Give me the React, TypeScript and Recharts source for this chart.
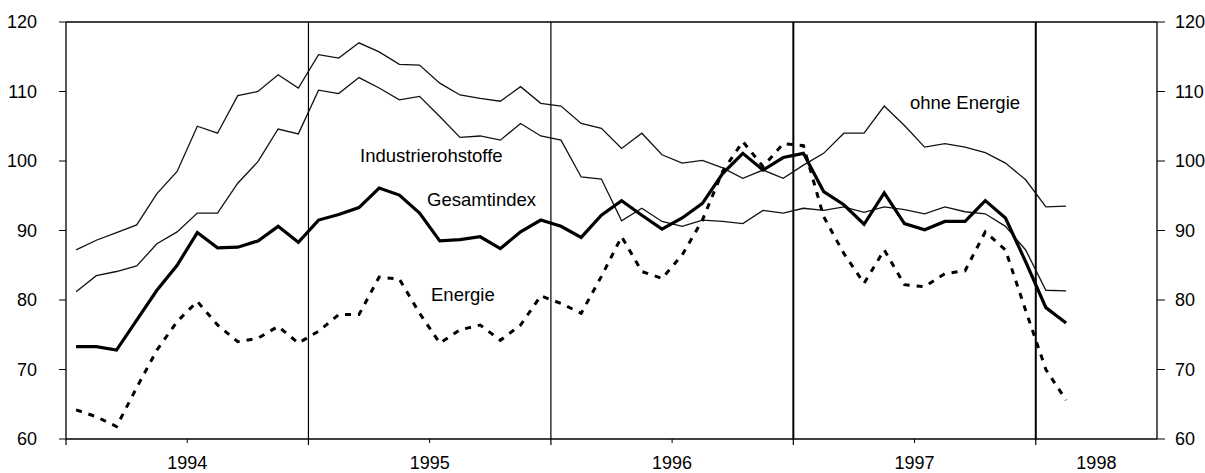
import React from "react";
import { LineChart, Line, XAxis, YAxis, ReferenceLine } from "recharts";

// Monatswerte Jan 1994 – Feb 1998 (Index)
const years = ["1994", "1995", "1996", "1997", "1998"];

const ohneEnergie = [
  87.2, 88.6, 89.7, 90.8, 95.3, 98.5, 105.0, 104.0, 109.4, 110.0, 112.4, 110.5,
  115.3, 114.8, 117.0, 115.7, 113.9, 113.8, 111.2, 109.5, 109.0, 108.6, 110.7, 108.3,
  107.9, 105.4, 104.7, 101.8, 104.0, 100.9, 99.7, 100.1, 99.0, 97.5, 98.7, 97.5,
  99.4, 101.1, 104.0, 104.0, 107.9, 105.1, 102.0, 102.5, 102.0, 101.2, 99.7, 97.3,
  93.4, 93.5,
];

const industrierohstoffe = [
  81.2, 83.5, 84.1, 84.9, 88.1, 89.8, 92.5, 92.5, 96.8, 99.9, 104.6, 103.9,
  110.2, 109.7, 112.0, 110.5, 108.8, 109.3, 106.4, 103.4, 103.6, 103.0, 105.4, 103.6,
  103.0, 97.7, 97.4, 91.4, 93.2, 91.3, 90.6, 91.5, 91.3, 91.0, 92.9, 92.5,
  93.2, 92.9, 93.4, 92.6, 93.4, 93.0, 92.4, 93.4, 92.7, 92.4, 90.6, 87.2,
  81.4, 81.3,
];

const gesamtindex = [
  73.3, 73.3, 72.8, 77.1, 81.4, 85.0, 89.7, 87.5, 87.6, 88.5, 90.6, 88.3,
  91.5, 92.3, 93.3, 96.1, 95.1, 92.5, 88.5, 88.7, 89.1, 87.4, 89.8, 91.5,
  90.6, 89.0, 92.2, 94.3, 92.2, 90.2, 91.8, 93.9, 98.2, 101.1, 98.7, 100.5,
  101.1, 95.6, 93.7, 90.9, 95.4, 91.0, 90.1, 91.3, 91.3, 94.3, 91.8, 85.5,
  78.9, 76.7,
];

const energie = [
  64.2, 63.2, 61.8, 67.4, 72.8, 76.9, 79.8, 76.4, 74.0, 74.5, 76.2, 73.8,
  75.5, 77.9, 77.9, 83.3, 83.0, 78.1, 73.8, 75.7, 76.4, 74.2, 76.4, 80.6,
  79.5, 78.1, 83.4, 89.1, 84.1, 83.1, 86.5, 91.5, 98.5, 102.8, 99.2, 102.5,
  102.2, 92.0, 86.7, 82.4, 87.2, 82.2, 81.9, 83.8, 84.2, 89.8, 87.2, 78.5,
  70.0, 65.6,
];

const yTicks = [60, 70, 80, 90, 100, 110, 120];
const xTicks = [0, 6, 12, 18, 24, 30, 36, 42, 48, 51, 54];
const yearBreaks = [12, 24, 36, 48];

// x = Monatsmitte (Monat i -> i + 0.5)
const data = gesamtindex.map((_, i) => ({
  t: i + 0.5,
  ohne: ohneEnergie[i],
  ind: industrierohstoffe[i],
  ges: gesamtindex[i],
  en: energie[i],
}));

const FONT = "'Liberation Sans', Arial, sans-serif";

function YearTick({ x, y, payload }: any) {
  const v = payload.value;
  const isBreak = v % 12 === 0;
  const isMid = (v % 12 === 6 && v < 48) || v === 51;
  return (
    <g>
      {isBreak && <line x1={x} x2={x} y1={y} y2={y + 6} stroke="#000" strokeWidth={1.2} />}
      {v % 12 === 6 && v < 48 && <line x1={x} x2={x} y1={y} y2={y + 4} stroke="#000" strokeWidth={1} />}
      {isMid && (
        <text x={x} y={y + 30} textAnchor="middle" fontSize={18} fontFamily={FONT} fill="#000">
          {years[Math.floor(v / 12)]}
        </text>
      )}
    </g>
  );
}

const labelStyle: React.CSSProperties = {
  position: "absolute",
  fontFamily: FONT,
  fontSize: 18.5,
  lineHeight: "20px",
  color: "#000",
  whiteSpace: "nowrap",
};

export default function App() {
  return (
    <div style={{ position: "absolute", left: 0, top: 0, width: 1205, height: 473, background: "#fff" }}>
      <LineChart width={1205} height={473} data={data} margin={{ top: 22, right: 0, bottom: 0, left: 0 }}>
        <XAxis
          type="number"
          dataKey="t"
          domain={[0, 54]}
          ticks={xTicks}
          interval={0}
          tick={<YearTick />}
          tickLine={false}
          tickSize={0}
          tickMargin={0}
          height={34}
          axisLine={{ stroke: "#000", strokeWidth: 1.5 }}
        />
        <YAxis
          yAxisId="l"
          orientation="left"
          domain={[60, 120]}
          ticks={yTicks}
          interval={0}
          width={66}
          tickSize={7}
          tickMargin={22}
          tick={{ fontSize: 18, fill: "#000", fontFamily: FONT }}
          tickLine={{ stroke: "#000" }}
          axisLine={{ stroke: "#000", strokeWidth: 1.3 }}
        />
        <YAxis
          yAxisId="r"
          orientation="right"
          domain={[60, 120]}
          ticks={yTicks}
          interval={0}
          width={48}
          tickSize={8}
          tickMargin={10}
          tick={{ fontSize: 18, fill: "#000", fontFamily: FONT, textAnchor: "start" }}
          tickLine={{ stroke: "#000" }}
          axisLine={{ stroke: "#000", strokeWidth: 1.3 }}
        />
        <ReferenceLine yAxisId="l" y={120} stroke="#000" strokeWidth={1.5} />
        {yearBreaks.map((b) => (
          <ReferenceLine key={b} yAxisId="l" x={b} stroke="#000" strokeWidth={b >= 36 ? 2 : 1.2} />
        ))}
        <Line yAxisId="r" dataKey="ohne" stroke="#111" strokeWidth={1.3} dot={false} isAnimationActive={false} />
        <Line yAxisId="l" dataKey="ind" stroke="#111" strokeWidth={1.3} dot={false} isAnimationActive={false} />
        <Line
          yAxisId="l"
          dataKey="en"
          stroke="#000"
          strokeWidth={3}
          strokeDasharray="6 7"
          dot={false}
          isAnimationActive={false}
        />
        <Line yAxisId="l" dataKey="ges" stroke="#000" strokeWidth={3.2} dot={false} isAnimationActive={false} />
      </LineChart>
      <div style={{ ...labelStyle, left: 360, top: 146 }}>Industrierohstoffe</div>
      <div style={{ ...labelStyle, left: 427, top: 190 }}>Gesamtindex</div>
      <div style={{ ...labelStyle, left: 431, top: 285 }}>Energie</div>
      <div style={{ ...labelStyle, left: 910, top: 93 }}>ohne Energie</div>
    </div>
  );
}
